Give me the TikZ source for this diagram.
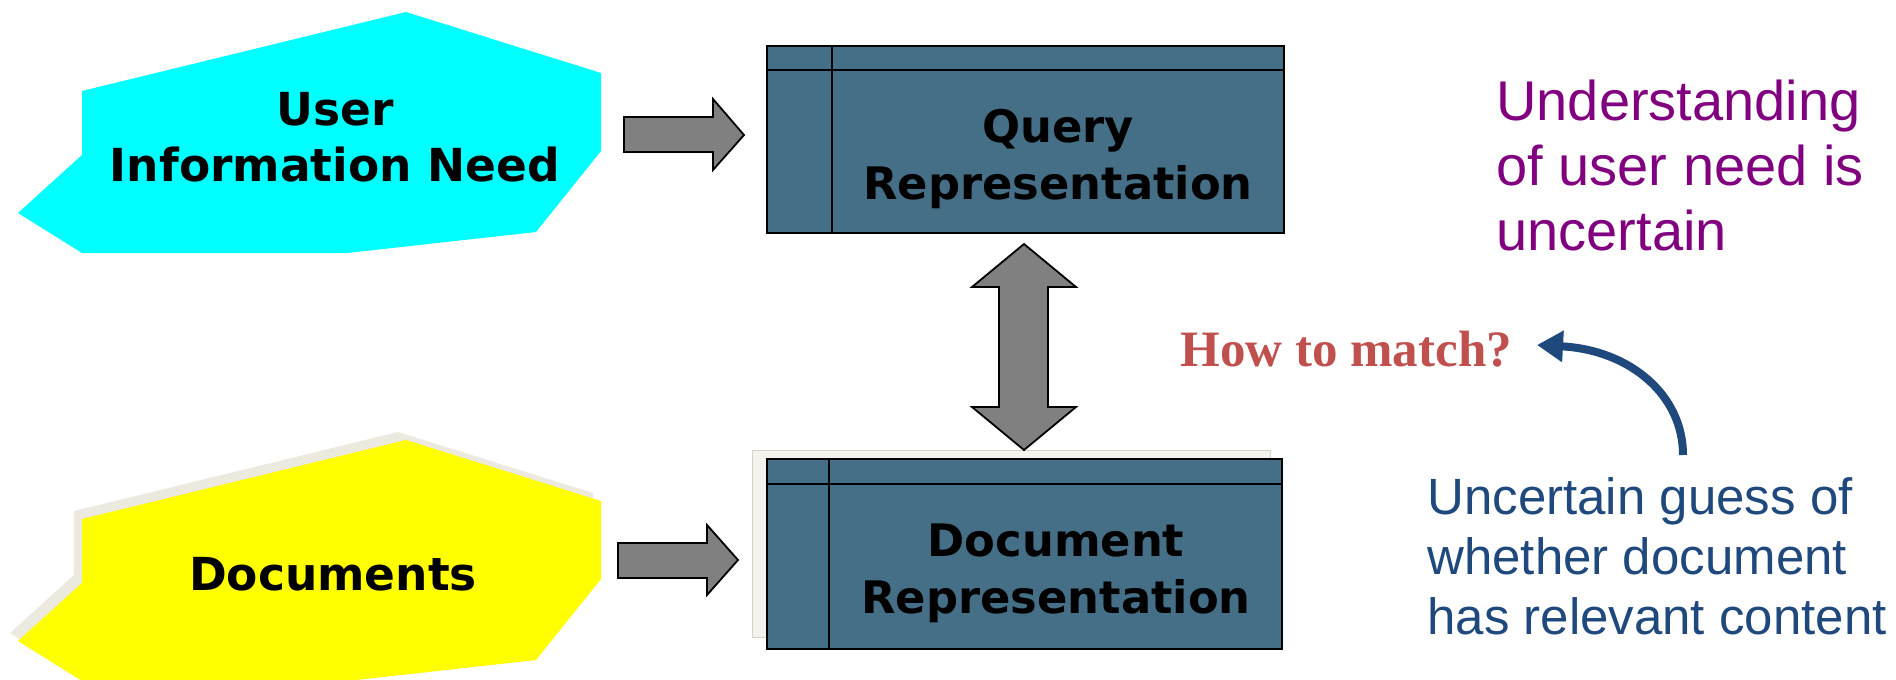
\documentclass[tikz,border=0pt]{standalone}
\usepackage{fontspec}
\setmainfont{Liberation Sans}
\newfontfamily\verdfont{DejaVu Sans}
\newfontfamily\timesfont{Liberation Serif}
\usetikzlibrary{arrows.meta}

\definecolor{needfill}{HTML}{00FFFF}
\definecolor{docfill}{HTML}{FFFF00}
\definecolor{shadefill}{HTML}{ECE9DF}
\definecolor{reprfill}{HTML}{446F86}
\definecolor{blockgray}{HTML}{808080}
\definecolor{matchred}{HTML}{C0504D}
\definecolor{noteblue}{HTML}{1F497D}
\definecolor{notepurple}{HTML}{800080}

\tikzset{
  reprbox/.style={draw=black, fill=reprfill, line width=1.1pt},
  reprline/.style={draw=black, line width=1.1pt},
  blockarrow/.style={draw=black, fill=blockgray, line width=0.9pt, line join=miter},
  bigtext/.style={font=\verdfont\bfseries\fontsize{22.75}{28}\selectfont, align=center, inner sep=0pt},
  reprtext/.style={font=\verdfont\bfseries\fontsize{22.4}{28.5}\selectfont, align=center, inner sep=0pt},
  notetext/.style={align=left, inner sep=0pt, anchor=north west},
}

\begin{document}
\begin{tikzpicture}[x=0.5pt, y=-0.5pt]
  \useasboundingbox (0,0) rectangle (1896,680);

  % cyan blob: user information need
  \fill[needfill] (82,91) -- (406,12) -- (601,73) -- (601,151) -- (536,232)
    -- (347,253) -- (82,253) -- (18,213) -- (82,155) -- cycle;
  \node[bigtext] (need) at (335,137) {User\\Information Need};

  % yellow blob with its beige shadow: documents
  \fill[shadefill, shift={(-8,-8)}] (82,519) -- (406,440) -- (601,501) -- (601,579) -- (536,660)
    -- (347,681) -- (82,681) -- (18,641) -- (82,583) -- cycle;
  \fill[docfill] (82,519) -- (406,440) -- (601,501) -- (601,579) -- (536,660)
    -- (347,681) -- (82,681) -- (18,641) -- (82,583) -- cycle;
  \node[bigtext] (docs) at (333,574) {Documents};

  % query representation box
  \draw[reprbox] (767,46) rectangle (1284,233);
  \draw[reprline] (767,70) -- (1284,70);
  \draw[reprline] (832,46) -- (832,233);
  \node[reprtext] (query) at (1058,159) {Query\\Representation};

  % document representation box, with its pale backing sheet
  \draw[fill=shadefill!60, draw=shadefill!90!black, line width=0.3pt] (752,450) rectangle (1270,637);
  \draw[reprbox] (767,459) rectangle (1282,649);
  \draw[reprline] (767,484) -- (1282,484);
  \draw[reprline] (829,459) -- (829,649);
  \node[reprtext] (docrep) at (1056,573) {Document\\Representation};

  % block arrows
  \draw[blockarrow] (624,117) -- (713,117) -- (713,99) -- (744,135) -- (713,170)
    -- (713,152) -- (624,152) -- cycle;
  \draw[blockarrow] (618,543) -- (707,543) -- (707,525) -- (738,560) -- (707,595)
    -- (707,578) -- (618,578) -- cycle;
  \draw[blockarrow] (1024,244) -- (1076,287) -- (1048,287) -- (1048,407) -- (1076,407)
    -- (1024,450) -- (972,407) -- (999,407) -- (999,287) -- (972,287) -- cycle;

  % annotations
  \node[font=\timesfont\bfseries\fontsize{25.5}{30}\selectfont, text=matchred, anchor=base west, inner sep=0pt]
    (match) at (1180,366) {How to match?};

  \node[notetext, text=notepurple, font=\fontsize{28}{32.5}\selectfont] (understand) at (1496,80)
    {Understanding\\of user need is\\uncertain};

  \node[notetext, text=noteblue, font=\fontsize{25.5}{30}\selectfont] (guess) at (1427,477)
    {Uncertain guess of\\whether document\\has relevant content};

  % curved pointer from the guess note up to the question
  \coordinate (curvestart) at (1683,455);
  \coordinate (curveend) at (1537,345);
  \draw[noteblue, line width=4pt, -{Triangle[length=13pt, width=15pt]}]
    (curvestart) .. controls (1683,395) and (1630,350) .. (curveend);
\end{tikzpicture}
\end{document}
